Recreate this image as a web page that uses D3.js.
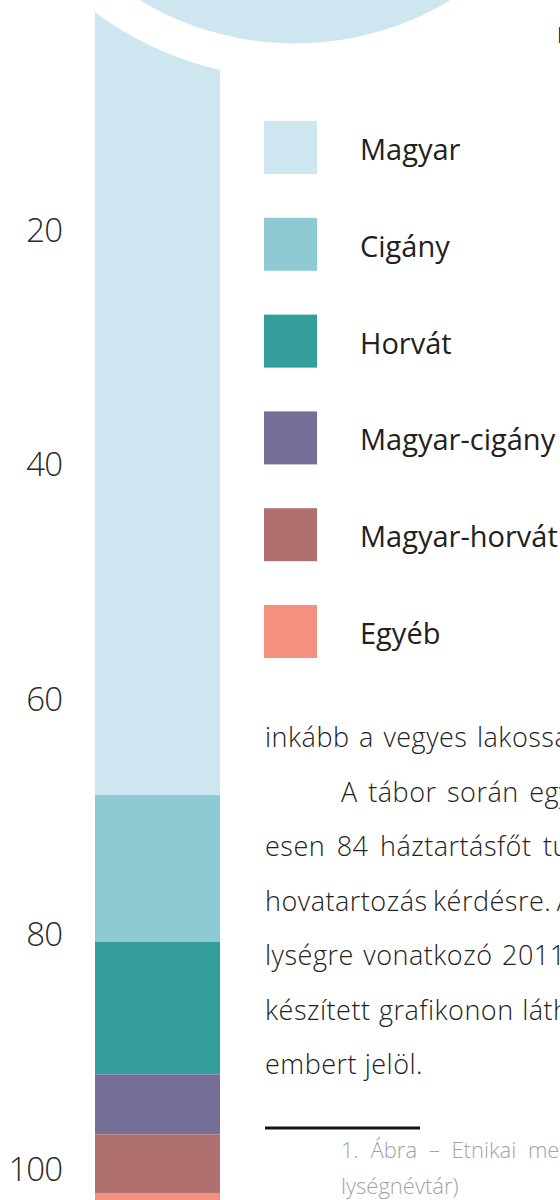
<!DOCTYPE html>
<html>
<head>
<meta charset="utf-8">
<script src="https://cdn.jsdelivr.net/npm/d3@7"></script>
<style>
  html, body { margin: 0; padding: 0; background: #fff; }
  svg { display: block; overflow: hidden; }
</style>
</head>
<body>
<script>
// ---- data ----
const categories = ["Magyar", "Cigány", "Horvát", "Magyar-cigány", "Magyar-horvát", "Egyéb"];
const values = [68.1, 12.5, 11.3, 5.1, 5.0, 2.0];
const colors = ["#cee6f0", "#8ecad3", "#349e9d", "#756f97", "#b17070", "#f5907f"];
const tickValues = [20, 40, 60, 80, 100];
const bodyLines = [
  "inkább a vegyes lakosság",
  "A tábor során egy",
  "esen 84 háztartásfőt tu",
  "hovatartozás kérdésre. A",
  "lységre vonatkozó 2011",
  "készített grafikonon láth",
  "embert jelöl."
];
const captionLines = ["1. Ábra – Etnikai me", "lységnévtár)"];

// ---- layout ----
const W = 560, H = 1200;
const svg = d3.select("body").append("svg").attr("width", W).attr("height", H);

const y = d3.scaleLinear().domain([0, 100]).range([-4.25, 1169.5]);
const barX0 = 95, barX1 = 220;

// stacked segments
let acc = 0;
const segs = values.map((v, i) => {
  const s = { key: categories[i], y0: acc, y1: acc + v, color: colors[i] };
  acc += v;
  return s;
});

svg.append("g").selectAll("rect").data(segs).join("rect")
  .attr("x", barX0)
  .attr("width", barX1 - barX0)
  .attr("y", d => y(d.y0))
  .attr("height", d => y(d.y1) - y(d.y0))
  .attr("fill", d => d.color);

// decorative circle with white ring cutting top of bar
const cx = 295, cy = -256;
svg.append("circle").attr("cx", cx).attr("cy", cy).attr("r", 334.5).attr("fill", "#fff");
svg.append("circle").attr("cx", cx).attr("cy", cy).attr("r", 299.5).attr("fill", colors[0]);

// axis labels
const axis = d3.axisLeft(y).tickValues(tickValues).tickSize(0).tickPadding(0);
const ag = svg.append("g").attr("transform", "translate(62,0)").call(axis);
ag.select(".domain").remove();
ag.selectAll("text")
  .attr("font-family", "'Open Sans', sans-serif")
  .attr("font-weight", 300)
  .attr("font-size", 33)
  .attr("letter-spacing", -1)
  .attr("fill", "#2a2a2a");

// legend
const lg = svg.append("g");
const legY0 = 121, legStep = 96.8, sq = 53;
const items = lg.selectAll("g").data(categories).join("g")
  .attr("transform", (d, i) => `translate(264,${legY0 + i * legStep})`);
items.append("rect").attr("width", sq).attr("height", sq).attr("fill", (d, i) => colors[i]);
items.append("text")
  .attr("x", 96).attr("y", 39)
  .attr("font-family", "'Open Sans', sans-serif")
  .attr("font-size", 29)
  .attr("fill", "#231f20")
  .text(d => d);

// top-right partial glyph
svg.append("text").attr("x", 557).attr("y", 43)
  .attr("font-family", "'Open Sans', sans-serif").attr("font-size", 21)
  .attr("fill", "#222").text("N");

// body text
const bodyX = [265, 341, 265, 265, 265, 265, 265];
const wordSp = [2, 3, 4, -2, 2, 1, 0];
svg.append("g").selectAll("text").data(bodyLines).join("text")
  .attr("x", (d, i) => bodyX[i])
  .attr("y", (d, i) => 747 + i * 54.5)
  .attr("font-family", "'Open Sans', sans-serif")
  .attr("font-weight", 300)
  .attr("font-size", 27)
  .attr("letter-spacing", 0.5)
  .attr("word-spacing", (d, i) => wordSp[i])
  .attr("fill", "#222")
  .text(d => d);

// separator
svg.append("line").attr("x1", 265).attr("x2", 420).attr("y1", 1128).attr("y2", 1128)
  .attr("stroke", "#111").attr("stroke-width", 3);

// caption
svg.append("g").selectAll("text").data(captionLines).join("text")
  .attr("x", 341)
  .attr("y", (d, i) => 1158 + i * 36)
  .attr("font-family", "'Open Sans', sans-serif")
  .attr("font-weight", 300)
  .attr("font-size", 22)
  .attr("word-spacing", (d, i) => i === 0 ? 6 : 0)
  .attr("fill", "#a3a3a3")
  .text(d => d);
</script>
</body>
</html>
